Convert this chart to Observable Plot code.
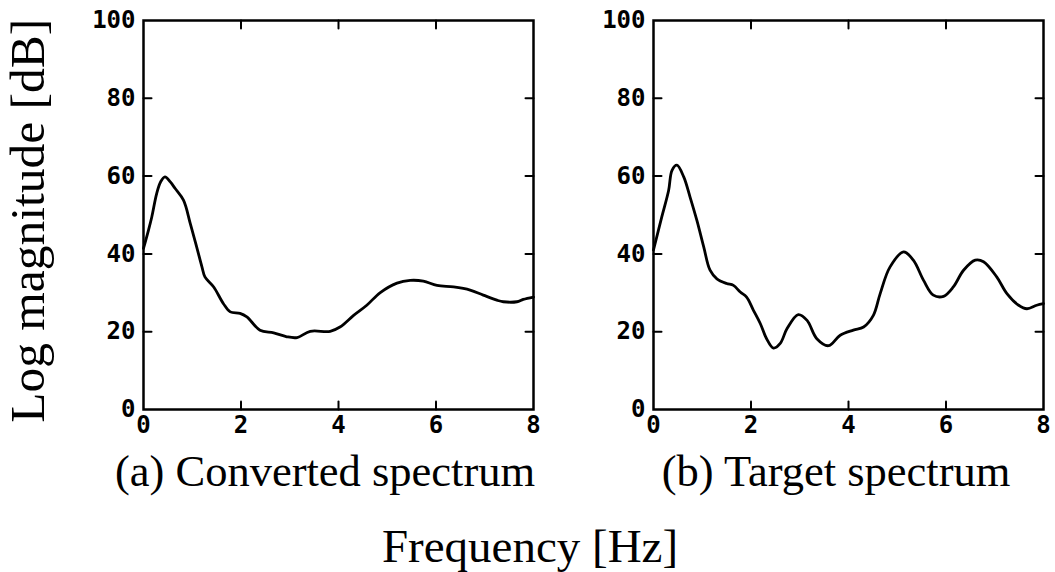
<!DOCTYPE html>
<html>
<head>
<meta charset="utf-8">
<script src="https://cdn.jsdelivr.net/npm/d3@7"></script>
<script src="https://cdn.jsdelivr.net/npm/@observablehq/plot@0.6"></script>
<style>
  html, body { margin: 0; padding: 0; background: #fff; }
  #wrap { position: relative; width: 1055px; height: 572px; overflow: hidden; background: #fff; }
  .panel { position: absolute; top: 0; }
  .txt { position: absolute; font-family: "Liberation Serif", "Times New Roman", serif; color: #000; white-space: nowrap; line-height: 1; }
</style>
</head>
<body>
<div id="wrap"></div>
<script>
// ---- data ----
const freqA = [0.0, 0.1, 0.17, 0.27, 0.35, 0.44, 0.55, 0.65, 0.82, 0.96, 1.09, 1.2, 1.26, 1.44, 1.64, 1.78, 1.98, 2.12, 2.39, 2.67, 2.94, 3.15, 3.42, 3.83, 4.03, 4.31, 4.58, 4.85, 5.2, 5.47, 5.74, 6.02, 6.36, 6.7, 6.97, 7.25, 7.38, 7.66, 7.79, 8.0];
const magA  = [41.4, 46, 49.5, 55.5, 58.5, 59.8, 58.5, 56.8, 53.8, 47.8, 41.8, 36.6, 34.1, 31.5, 27.2, 25.1, 24.7, 23.8, 20.4, 19.7, 18.7, 18.5, 20.1, 20.1, 21.2, 24.2, 26.8, 30.0, 32.5, 33.2, 33.0, 31.9, 31.5, 30.7, 29.4, 28.1, 27.7, 27.7, 28.3, 28.9];

const freqB = [0.0, 0.17, 0.31, 0.38, 0.48, 0.62, 0.75, 0.89, 1.03, 1.16, 1.3, 1.5, 1.64, 1.78, 1.91, 2.05, 2.19, 2.32, 2.46, 2.6, 2.74, 2.97, 3.15, 3.35, 3.59, 3.83, 4.1, 4.31, 4.51, 4.65, 4.85, 5.13, 5.33, 5.54, 5.74, 5.95, 6.15, 6.36, 6.6, 6.77, 7.04, 7.25, 7.49, 7.66, 7.86, 8.0];
const magB  = [41.0, 49.5, 56.3, 61.5, 62.8, 59.8, 54.6, 48.6, 41.8, 35.8, 33.6, 32.4, 31.9, 30.2, 28.9, 25.5, 22.1, 18.2, 15.8, 17.0, 20.8, 24.4, 22.9, 18.2, 16.4, 19.1, 20.4, 21.2, 24.2, 29.8, 36.6, 40.5, 38.4, 33.2, 29.4, 29.1, 31.5, 35.8, 38.4, 38.0, 34.1, 29.8, 26.8, 25.9, 26.8, 27.2];

const xTickLabels = [0, 2, 4, 6, 8];
const yTickLabels = [0, 20, 40, 60, 80, 100];
const xInnerTicks = [2, 4, 6];
const yInnerTicks = [20, 40, 60, 80];

const captions = ["(a) Converted spectrum", "(b) Target spectrum"];
const yTitle = "Log magnitude [dB]";
const xTitle = "Frequency [Hz]";

// ---- drawing ----
const tickShape = { draw(context, l) { context.moveTo(0, 0); context.lineTo(0, -l); } };
const tickFont = { fontFamily: "DejaVu Sans Mono", fontWeight: "bold", fontSize: 24 };

function panel(freq, mag) {
  const data = freq.map((f, i) => ({ f, m: mag[i] }));
  const vec = (arr, opts) => Plot.vector(arr, { length: 8, anchor: "start", shape: tickShape, stroke: "black", strokeWidth: 2, ...opts });
  return Plot.plot({
    width: 545,
    height: 440,
    marginLeft: 143,
    marginRight: 12,
    marginTop: 20,
    marginBottom: 31,
    style: { background: "transparent", color: "black", overflow: "visible" },
    x: { domain: [0, 8], label: null },
    y: { domain: [0, 100], label: null },
    marks: [
      Plot.axisX(xTickLabels, { tickSize: 0, tickPadding: 6, ...tickFont, fill: "black" }),
      Plot.axisY(yTickLabels, { tickSize: 0, tickPadding: 8, ...tickFont, fill: "black" }),
      // inward tick marks on all four sides
      vec(yInnerTicks, { x: () => 0, y: d => d, rotate: 90 }),
      vec(yInnerTicks, { x: () => 8, y: d => d, rotate: -90 }),
      vec(xInnerTicks, { x: d => d, y: () => 0, rotate: 0 }),
      vec(xInnerTicks, { x: d => d, y: () => 100, rotate: 180 }),
      Plot.line(data, { x: "f", y: "m", stroke: "black", strokeWidth: 2.8, curve: "catmull-rom" }),
      Plot.frame({ stroke: "black", strokeWidth: 2.5 })
    ]
  });
}

const wrap = document.getElementById("wrap");
const p1 = panel(freqA, magA);
p1.classList.add("panel");
p1.style.left = "0px";
wrap.appendChild(p1);
const p2 = panel(freqB, magB);
p2.classList.add("panel");
p2.style.left = "510px";
wrap.appendChild(p2);

function addText(str, size, cx, top, rotate) {
  const d = document.createElement("div");
  d.className = "txt";
  d.textContent = str;
  d.style.fontSize = size + "px";
  d.style.width = "600px";
  d.style.textAlign = "center";
  d.style.left = (cx - 300) + "px";
  d.style.top = top + "px";
  if (rotate) { d.style.transform = "rotate(-90deg)"; d.style.transformOrigin = "50% 50%"; }
  wrap.appendChild(d);
}
addText(captions[0], 44.5, 325, 449);
addText(captions[1], 44.5, 836, 449);
addText(xTitle, 47, 530, 523);
addText(yTitle, 49.5, 28, 221 - 24.75, true);
</script>
</body>
</html>
